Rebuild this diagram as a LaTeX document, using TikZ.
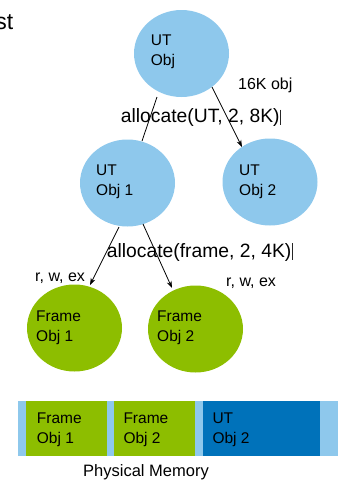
\documentclass[tikz,border=0pt]{standalone}
\usepackage{fontspec}
\setmainfont{Liberation Sans}
\usetikzlibrary{shapes.geometric,arrows.meta,calc}
\definecolor{ltblue}{RGB}{142,200,236}
\definecolor{frgreen}{RGB}{141,190,0}
\definecolor{dkblue}{RGB}{0,114,186}
\tikzset{
  objbox/.style={ellipse, inner sep=0pt, minimum width=95pt, minimum height=87pt, draw=none},
  utobj/.style={objbox, fill=ltblue},
  frobj/.style={objbox, fill=frgreen},
  % two-line labels: placed by the baseline of their last line
  lbl/.style={inner sep=0pt, anchor=base west, align=left, font=\fontsize{15.5}{20}\selectfont},
  call/.style={inner sep=0pt, anchor=base west, font=\fontsize{19.3}{22}\selectfont},
  note/.style={inner sep=0pt, anchor=base west, font=\fontsize{16}{19}\selectfont},
  link/.style={line width=0.8pt, draw=black},
  arr/.style={link, -{Stealth[length=7pt,width=5pt]}},
  cursor/.style={line width=0.9pt, draw=black!85}
}
\begin{document}
\begin{tikzpicture}[x=1pt,y=-1pt]
\useasboundingbox (0,0) rectangle (338,480);

% start points of the connectors
\coordinate (a1) at (157,97);
\coordinate (b1) at (212,87);
\coordinate (c1) at (119,227);
\coordinate (d1) at (143,224);

% capability objects
\node[utobj] (uto) at (181.5,53.5) {};
\node[utobj] (ut1) at (127.5,183) {};
\node[utobj] (ut2) at (270,182) {};
\node[frobj] (fr1) at (74.5,328) {};
\node[frobj] (fr2) at (195.5,329) {};

\draw[link] (a1) -- ($(ut1.center)+(14.5,-42)$);
\draw[arr] (b1) -- ($(ut2.center)+(-28,-35)$);
\draw[arr] (c1) -- ($(fr1.center)+(15.5,-43)$);
\draw[arr] (d1) -- ($(fr2.center)+(-23.5,-41)$);

\node[lbl] (uto-t) at (150.7,65) {UT\\Obj};
\node[lbl] (ut1-t) at (96,195) {UT\\Obj 1};
\node[lbl] (ut2-t) at (239,195) {UT\\Obj 2};
\node[lbl] (fr1-t) at (36,341) {Frame\\Obj 1};
\node[lbl] (fr2-t) at (157,341) {Frame\\Obj 2};

% partial heading at the left edge
\node[inner sep=0pt, anchor=base east, font=\fontsize{23}{26}\selectfont] (head) at (13.5,29) {st};

% labels on the connectors
\node[note] (size) at (238,89.5) {16K obj};
\node[call] (call1) at (120.7,122) {allocate(UT, 2, 8K)};
\draw[cursor] (280,109.5) -- (280,124.5);
\node[call] (call2) at (106.7,257.7) {allocate(frame, 2, 4K)};
\draw[cursor] (292.5,243) -- (292.5,260);
\node[note] (rw1) at (35,281) {r, w, ex};
\node[note] (rw2) at (226,286) {r, w, ex};

% physical memory bar
\fill[ltblue] (17.7,401) rectangle (338,456);
\fill[frgreen] (26,401) rectangle (107,456);
\fill[frgreen] (114,401) rectangle (195,456);
\fill[dkblue] (203,401) rectangle (320,456);
\node[lbl] (m1-t) at (36.7,443) {Frame\\Obj 1};
\node[lbl] (m2-t) at (123.3,443) {Frame\\Obj 2};
\node[lbl] (m3-t) at (212.3,443) {UT\\Obj 2};
\node[inner sep=0pt, anchor=base west, font=\fontsize{16.5}{19}\selectfont] (mem) at (83,476.5) {Physical Memory};
\end{tikzpicture}
\end{document}
